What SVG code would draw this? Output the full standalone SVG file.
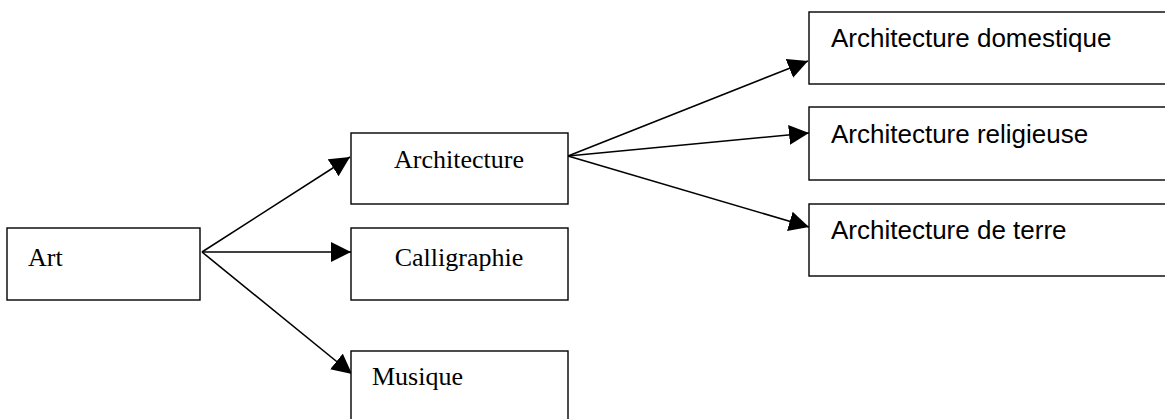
<svg xmlns="http://www.w3.org/2000/svg" width="1165" height="419" viewBox="0 0 1165 419">
<style>
.box{fill:#fff;stroke:#000;stroke-width:1.4}
.serif{font-family:"Liberation Serif","Times New Roman",serif;font-size:26px;fill:#000}
.sans{font-family:"Liberation Sans",Arial,sans-serif;font-size:26px;fill:#000}
.conn{stroke:#000;stroke-width:1.6;fill:none;marker-end:url(#arr)}
</style>
<defs>
<marker id="arr" markerUnits="userSpaceOnUse" markerWidth="22" markerHeight="22" refX="20" refY="10" orient="auto" viewBox="0 0 22 22">
<path d="M0,0 L20,10 L0,20 z" fill="#000"/>
</marker>
</defs>
<rect width="1165" height="419" fill="#fff"/>
<g id="connectors">
<line class="conn" x1="202" y1="252" x2="350" y2="157"/>
<line class="conn" x1="202" y1="252" x2="351" y2="252"/>
<line class="conn" x1="202" y1="252" x2="352" y2="374"/>
<line class="conn" x1="568" y1="156" x2="808" y2="61"/>
<line class="conn" x1="568" y1="156" x2="809" y2="133"/>
<line class="conn" x1="568" y1="156" x2="809" y2="227"/>
</g>
<g id="art"><rect class="box" x="7" y="228" width="193" height="72"/><text class="serif" x="28" y="266">Art</text></g>
<g id="architecture"><rect class="box" x="351" y="133" width="217" height="71"/><text class="serif" x="459" y="168" text-anchor="middle">Architecture</text></g>
<g id="calligraphie"><rect class="box" x="351" y="228" width="217" height="72"/><text class="serif" x="459" y="266" text-anchor="middle">Calligraphie</text></g>
<g id="musique"><rect class="box" x="351" y="351" width="217" height="80"/><text class="serif" x="372" y="385">Musique</text></g>
<g id="domestique"><rect class="box" x="809" y="12" width="370" height="72"/><text class="sans" x="831" y="47">Architecture domestique</text></g>
<g id="religieuse"><rect class="box" x="809" y="107" width="370" height="73"/><text class="sans" x="831" y="143">Architecture religieuse</text></g>
<g id="terre"><rect class="box" x="809" y="204" width="370" height="72"/><text class="sans" x="831" y="239">Architecture de terre</text></g>
</svg>
